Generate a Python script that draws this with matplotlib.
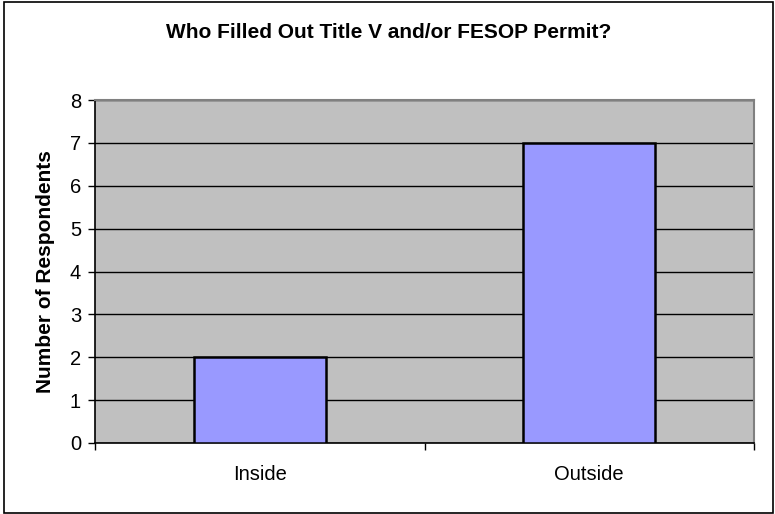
import matplotlib
matplotlib.use("Agg")
import matplotlib.pyplot as plt
from matplotlib.patches import Rectangle

categories = ["Inside", "Outside"]
values = [2, 7]
y_ticks = [0, 1, 2, 3, 4, 5, 6, 7, 8]

plt.rcParams["font.family"] = ["Liberation Sans", "DejaVu Sans"]

fig = plt.figure(figsize=(7.75, 5.14), dpi=100)
ax = fig.add_axes([95 / 775, 1 - 443 / 514, (754 - 95) / 775, (443 - 100) / 514])

# outer chart border
fig.patches.append(Rectangle((4 / 775, 1 / 514), 769 / 775, 511 / 514,
                             transform=fig.transFigure, fill=False,
                             edgecolor="black", linewidth=1.2))

x = list(range(len(categories)))
ax.set_facecolor("#C0C0C0")
ax.bar(x, values, width=0.4, color="#9999FF", edgecolor="black",
       linewidth=1.8, zorder=3)

ax.set_xlim(-0.5, len(categories) - 0.5)
ax.set_ylim(0, 8)
ax.set_yticks(y_ticks)
ax.yaxis.grid(True, color="black", linewidth=1.0, zorder=1)
ax.set_axisbelow(True)

ax.set_xticks(x)
ax.set_xticklabels(categories, fontsize=14.5)
ax.tick_params(axis="x", length=0, pad=16)
# category separators as minor ticks
ax.set_xticks([-0.5, 0.5, 1.5], minor=True)
ax.tick_params(axis="x", which="minor", length=5, width=1, color="black")
ax.tick_params(axis="y", labelsize=14.5, length=5, width=1, pad=5)

for side in ["top", "right"]:
    ax.spines[side].set_color("#808080")
    ax.spines[side].set_linewidth(1.5)
for side in ["left", "bottom"]:
    ax.spines[side].set_color("black")
    ax.spines[side].set_linewidth(1.2)

ax.set_ylabel("Number of Respondents", fontsize=15, fontweight="bold")
ax.yaxis.set_label_coords(-40 / 659, 0.5)
fig.text(389 / 775, 1 - 32 / 514, "Who Filled Out Title V and/or FESOP Permit?",
         ha="center", va="center", fontsize=15, fontweight="bold")

fig.savefig("out.png", dpi=100)
